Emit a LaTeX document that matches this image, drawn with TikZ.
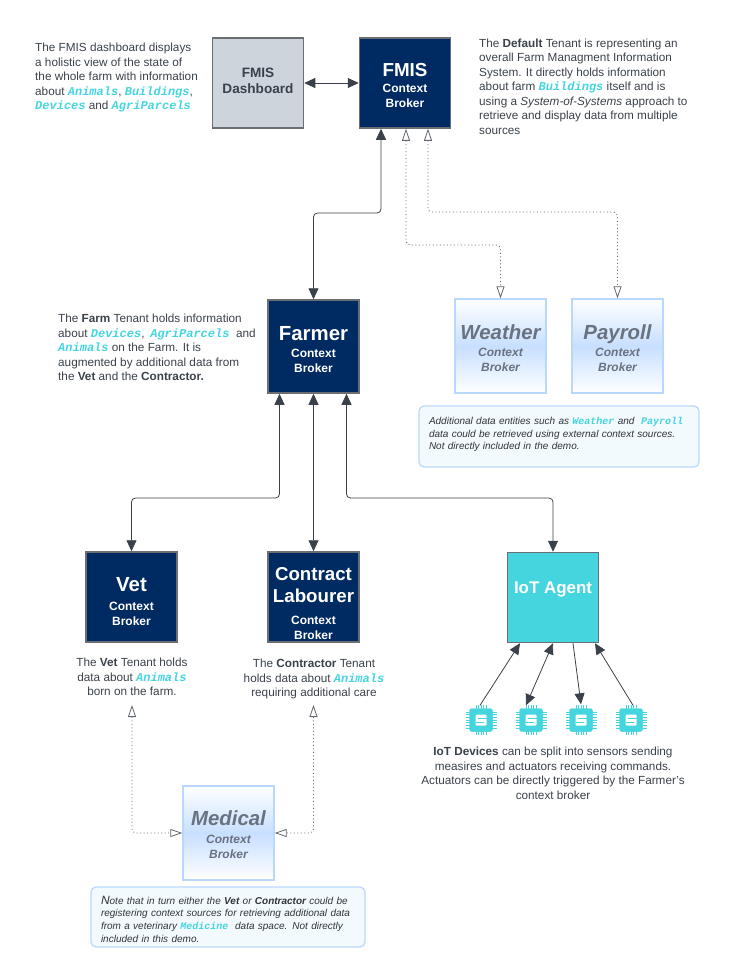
\documentclass[tikz,border=0pt]{standalone}
\usepackage{fontspec}
\setmainfont{Liberation Sans}
\newfontfamily\entfont{Liberation Mono}
\usetikzlibrary{arrows.meta}
\definecolor{navy}{HTML}{002A62}
\definecolor{ink}{HTML}{3A414A}
\definecolor{teal}{HTML}{45D5DF}
\definecolor{edgegrey}{HTML}{6B6E73}
\definecolor{pale}{HTML}{B9D7FF}
\definecolor{ghost}{HTML}{6A7280}
\definecolor{dashfill}{HTML}{CED4DC}
\definecolor{notefill}{HTML}{F3FAFD}
\newcommand{\ent}[1]{{\entfont\bfseries\itshape\color{teal}\fontsize{12}{14}\selectfont #1}}
\newcommand{\sment}[1]{{\entfont\bfseries\color{teal}\fontsize{10}{12}\selectfont #1}}
\newcommand{\ttl}[2]{{\fontsize{#1}{15}\selectfont #2}}
\newcommand{\cb}{Context\\Broker}
\tikzset{
    broker/.style={draw=edgegrey, line width=1.5pt, minimum width=91pt, minimum height=90pt, inner sep=0pt, align=center},
    tenant/.style={broker, fill=navy, text=white, font=\bfseries\fontsize{12}{15}\selectfont},
    remote/.style={draw=pale, line width=1.4pt, minimum width=91pt, minimum height=94pt, inner sep=0pt, align=center,
        top color=white, bottom color=white, middle color=pale!80, text=ghost, font=\bfseries\itshape\fontsize{12}{15}\selectfont},
    note/.style={draw=pale, line width=1.2pt, fill=notefill, rounded corners=5pt, inner xsep=10pt, inner ysep=0pt, align=left,
        text=ink!80!black, font=\itshape\fontsize{10}{12.7}\selectfont},
    blurb/.style={inner sep=0pt, text=ink, font=\fontsize{11.75}{14.5}\selectfont},
    chipbox/.style={fill=teal, rounded corners=2pt, minimum size=23pt, inner sep=0pt},
    link/.style={draw=ink, line width=0.8pt, rounded corners=4pt},
    solid2/.style={link, {Triangle[length=11pt,width=10pt]}-{Triangle[length=11pt,width=10pt]}},
    solidto/.style={link, -{Triangle[length=11pt,width=10pt]}},
    ghostlink/.style={draw=ink!80, line width=0.8pt, dash pattern=on 1pt off 2.5pt, rounded corners=4pt,
        {Triangle[open,length=12pt,width=8pt]}-{Triangle[open,length=12pt,width=8pt]}}
}
\begin{document}
\begin{tikzpicture}[x=1pt,y=-1pt]
    \useasboundingbox (0,0) rectangle (730,979);
    % brokers
    \node[broker, fill=dashfill, text=ink, font=\bfseries\fontsize{13.6}{16}\selectfont] (dash) at (258,83) {FMIS\\Dashboard\\[-12pt]\mbox{}};
    \node[tenant] (fmis) at (405,83) {\mbox{}\\[4pt]\ttl{18.8}{FMIS}\\[1pt]\cb};
    \node[tenant, minimum height=93pt] (farmer) at (313.5,346.5) {\mbox{}\\[5pt]\ttl{20.4}{Farmer}\\[2pt]\cb};
    \node[tenant] (vet) at (131.5,597) {\mbox{}\\[8pt]\ttl{20.4}{Vet}\\[4pt]\cb};
    \node[tenant] (labour) at (313.5,597) {\mbox{}\\[12pt]\ttl{18.7}{Contract}\\[7pt]\ttl{18.7}{Labourer}\\[7pt]\cb};
    \node[broker, fill=teal, text=white, font=\bfseries\fontsize{16.9}{20}\selectfont] (iot) at (553,597.5) {IoT Agent\\[-1pt]\mbox{}};
    \node[remote] (weather) at (500.5,346) {\mbox{}\\[4pt]\ttl{20.4}{Weather}\\[2pt]\cb};
    \node[remote] (payroll) at (617.5,346) {\mbox{}\\[4pt]\ttl{20.4}{Payroll}\\[2pt]\cb};
    \node[remote] (medical) at (228.5,833) {\mbox{}\\[4pt]\ttl{20.4}{Medical}\\[3pt]\cb};
    % notes
    \node[note, minimum width=280pt, minimum height=61pt, text width=260pt] (extnote) at (559,436.5) {Additional data entities such as \sment{Weather} and \ \sment{Payroll}\\data could be retrieved using external context sources.\\Not directly included in the demo.\\[-6.7pt]\mbox{}};
    \node[note, minimum width=274pt, minimum height=60pt, text width=254pt] (mednote) at (228,917) {\mbox{}\\[-0.5pt]{\fontsize{12}{12.7}\selectfont N}ote that in turn either the {\bfseries Vet} or {\bfseries Contractor} could be\\registering context sources for retrieving additional data\\from a veterinary \sment{Medicine} \ data space. Not directly\\included in this demo.};
    % blurbs
    \node[blurb, anchor=north west, align=left] (dashtext) at (35,43) {The FMIS dashboard displays\\a holistic view of the state of\\the whole farm with information\\about \ent{Animals}, \ent{Buildings},\\\ent{Devices} and \ent{AgriParcels}};
    \node[blurb, anchor=north west, align=left] (fmistext) at (479,38.5) {The {\bfseries Default} Tenant is representing an\\overall Farm Managment Information\\System. It directly holds information\\about farm \ent{Buildings} itself and is\\using a {\itshape System-of-Systems} approach to\\retrieve and display data from multiple\\sources};
    \node[blurb, anchor=north west, align=left] (farmtext) at (58,314) {The {\bfseries Farm} Tenant holds information\\about \ent{Devices},\hspace{2.5pt} \ent{AgriParcels} \ and\\\ent{Animals} on the Farm. It is\\augmented by additional data from\\the {\bfseries Vet} and the {\bfseries Contractor.}};
    \node[blurb, anchor=north, align=center] (vettext) at (132,658) {The {\bfseries Vet} Tenant holds\\data about \ent{Animals}\\born on the farm.};
    \node[blurb, anchor=north, align=center] (labourtext) at (314,659) {The {\bfseries Contractor} Tenant\\holds data about \ent{Animals}\\requiring additional care};
    \node[blurb, anchor=north, align=center] (iottext) at (553,747) {{\bfseries IoT Devices} can be split into sensors sending\\measires and actuators receiving commands.\\Actuators can be directly triggered by the Farmer's\\context broker};
    % iot devices
    \node[chipbox] (chipa) at (481,720) {};
    \node[chipbox] (chipb) at (531,720) {};
    \node[chipbox] (chipc) at (581,720) {};
    \node[chipbox] (chipd) at (631,720) {};
    \foreach \c in {chipa,chipb,chipc,chipd}{
        \begin{scope}[shift={(\c.center)}]
            \foreach \p in {-5,-2.5,0,2.5,5}{
                \draw[teal, line width=0.8pt] (\p,-15) -- (\p,15);
            }
            \foreach \p in {-8,-5.3,-2.7,0,2.7,5.3,8}{
                \draw[teal, line width=0.8pt] (-15.5,\p) -- (15.5,\p);
            }
            \fill[teal, rounded corners=2pt] (-11.5,-11.5) rectangle (11.5,11.5);
            \fill[white, rounded corners=1pt] (-5.5,-5.5) rectangle (5.5,5.5);
            \draw[teal, line width=1pt] (5.5,-2) -- (-3,-2);
            \draw[teal, line width=1pt] (-5.5,2) -- (3,2);
        \end{scope}
    }
    % free ends
    \coordinate (vetend) at (132,705);
    \coordinate (labourend) at (313.5,705);
    % links
    \draw[solid2] (dash.east) -- (fmis.west);
    \draw[solid2] ([xshift=-24pt]fmis.south) |- (347,213) -| (farmer.north);
    \draw[solid2] ([xshift=-34pt]farmer.south) |- (200,498) -| (vet.north);
    \draw[solid2] (farmer.south) -- (labour.north);
    \draw[solid2] ([xshift=33pt]farmer.south) |- (450,498) -| (iot.north);
    \draw[ghostlink] ([xshift=1pt]fmis.south) |- (450,245) -| (weather.north);
    \draw[ghostlink] ([xshift=23pt]fmis.south) |- (520,212) -| (payroll.north);
    \draw[ghostlink] (vetend) |- (medical.west);
    \draw[ghostlink] (labourend) |- (medical.east);
    \draw[solidto] ([xshift=-1pt,yshift=3pt]chipa.north) -- ([xshift=-33pt]iot.south);
    \draw[solid2] ([xshift=-5pt,yshift=3pt]chipb.north) -- (iot.south);
    \draw[solidto] ([xshift=20pt]iot.south) -- ([yshift=4pt]chipc.north);
    \draw[solidto] ([xshift=2pt,yshift=3pt]chipd.north) -- ([xshift=42pt]iot.south);
\end{tikzpicture}
\end{document}
